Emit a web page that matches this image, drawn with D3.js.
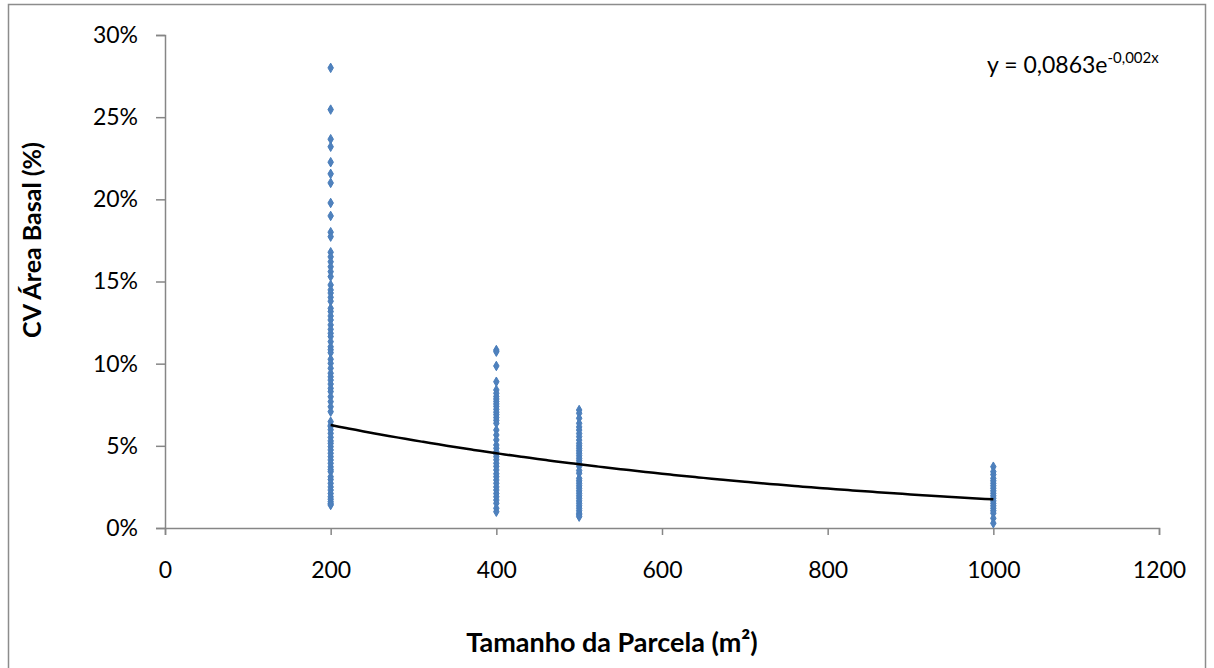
<!DOCTYPE html>
<html lang="pt">
<head>
    <meta charset="UTF-8">
    <title>CV Área Basal x Tamanho da Parcela</title>
    <style>
        body {
            margin: 0;
            background: #fff;
            font-family: Lato, 'Open Sans', sans-serif;
        }
        svg { display: block; }
        .tick text { font-family: Lato, sans-serif; font-size: 23px; fill: #000; }
        .axis-title { font-family: Lato, sans-serif; font-size: 25px; font-weight: bold; fill: #000; }
    </style>
    <script src="https://d3js.org/d3.v7.min.js"></script>
</head>
<body>
<svg id="chart" width="1214" height="668"></svg>
<script>
    // tamanhos de parcela (m²)
    const plotSizes = [200, 400, 500, 1000];

    // CV da área basal, por tamanho de parcela (fração)
    const cv200 = [0.280, 0.2546, 0.2366, 0.2320, 0.2226, 0.2155, 0.2100, 0.1978, 0.1899,
        0.1800, 0.1773, 0.1678, 0.1650, 0.1620, 0.1590, 0.1560, 0.1530, 0.1479, 0.1449,
        0.1430, 0.1404, 0.1380, 0.1337, 0.1317, 0.1290, 0.1266, 0.1236, 0.1209, 0.1185,
        0.1165, 0.1134, 0.1103, 0.1085, 0.1067, 0.1027, 0.1002, 0.0972, 0.0942, 0.0920,
        0.0900, 0.0876, 0.0850, 0.0830, 0.0799, 0.0769, 0.0738, 0.0708, 0.0647, 0.0625,
        0.0617, 0.0598, 0.0576, 0.0552, 0.0530, 0.0515, 0.0495, 0.0475, 0.0455, 0.0434,
        0.0414, 0.0394, 0.0372, 0.0355, 0.0343, 0.0312, 0.0295, 0.0272, 0.0250, 0.0231,
        0.0210, 0.0190, 0.0175, 0.0160, 0.0148, 0.0140];
    const cv400 = [0.1083, 0.1073, 0.0986, 0.0890, 0.0840, 0.0820, 0.0800, 0.0785, 0.0770,
        0.0755, 0.0740, 0.0722, 0.0705, 0.0690, 0.0672, 0.0655, 0.0637, 0.0596, 0.0566,
        0.0536, 0.0505, 0.0485, 0.0464, 0.0450, 0.0434, 0.0415, 0.0394, 0.0375, 0.0353,
        0.0330, 0.0312, 0.0292, 0.0272, 0.0250, 0.0231, 0.0210, 0.0190, 0.0170, 0.0150,
        0.0120, 0.0099];
    const cv500 = [0.0718, 0.0698, 0.0668, 0.0637, 0.0615, 0.0596, 0.0575, 0.0556, 0.0535,
        0.0515, 0.0500, 0.0485, 0.0470, 0.0455, 0.0440, 0.0424, 0.0410, 0.0394, 0.0375,
        0.0350, 0.0333, 0.0302, 0.0287, 0.0272, 0.0257, 0.0242, 0.0226, 0.0211, 0.0196,
        0.0181, 0.0165, 0.0150, 0.0135, 0.0120, 0.0105, 0.0090, 0.0080, 0.0069];
    const cv1000 = [0.0373, 0.0343, 0.0325, 0.0302, 0.0287, 0.0272, 0.0257, 0.0242, 0.0226,
        0.0211, 0.0196, 0.0181, 0.0165, 0.0150, 0.0135, 0.0120, 0.0105, 0.0090, 0.0059,
        0.0029];

    // linha de tendência exponencial (rótulo do Excel arredonda o expoente)
    const trendA = 0.0863;
    const trendB = -0.00160;
    const trendLabel = "y = 0,0863e";
    const trendExp = "-0,002x";

    const xTicks = [0, 200, 400, 600, 800, 1000, 1200];
    const yTicks = [0, 0.05, 0.10, 0.15, 0.20, 0.25, 0.30];

    const svg = d3.select("#chart");
    const width = +svg.attr("width");
    const height = +svg.attr("height");
    const margin = { top: 35, right: 55, bottom: 140, left: 165 };

    // moldura do gráfico
    svg.append("rect")
        .attr("x", 8.5).attr("y", 4.5)
        .attr("width", 1197).attr("height", 700)
        .attr("fill", "#fff")
        .attr("stroke", "#8c8c8c")
        .attr("stroke-width", 1.5);

    const x = d3.scaleLinear().domain([0, 1200]).range([margin.left, width - margin.right]);
    const y = d3.scaleLinear().domain([0, 0.30]).range([height - margin.bottom, margin.top]);

    const xAxis = svg.append("g")
        .attr("transform", `translate(0,${y(0)})`)
        .call(d3.axisBottom(x).tickValues(xTicks).tickFormat(d3.format("d")).tickSize(7).tickPadding(27));

    const yAxis = svg.append("g")
        .attr("transform", `translate(${x(0)},0)`)
        .call(d3.axisLeft(y).tickValues(yTicks).tickFormat(d3.format(".0%")).tickSize(9).tickPadding(18));

    [xAxis, yAxis].forEach(g => {
        g.select(".domain").attr("stroke", "#868686").attr("stroke-width", 1.5);
        g.selectAll(".tick line").attr("stroke", "#868686").attr("stroke-width", 1.5);
    });

    // pontos
    const points = [];
    [cv200, cv400, cv500, cv1000].forEach((vals, i) => {
        vals.forEach(v => points.push([plotSizes[i], v]));
    });

    svg.append("g")
        .selectAll("path")
        .data(points)
        .join("path")
        .attr("transform", d => `translate(${x(d[0])},${y(d[1])})`)
        .attr("d", d3.symbol().type(d3.symbolDiamond).size(26))
        .attr("fill", "#4f81bd")
        .attr("stroke", "#4a7ebb")
        .attr("stroke-width", 1);

    // tendência
    const trendX = d3.range(200, 1001, 10);
    svg.append("path")
        .datum(trendX)
        .attr("fill", "none")
        .attr("stroke", "#000")
        .attr("stroke-width", 2.5)
        .attr("d", d3.line()
            .x(d => x(d))
            .y(d => y(trendA * Math.exp(trendB * d)))
            .curve(d3.curveMonotoneX));

    // equação
    const eq = svg.append("text")
        .attr("x", 987)
        .attr("y", 73)
        .attr("font-family", "Lato, sans-serif")
        .attr("font-size", 23)
        .attr("fill", "#000")
        .text(trendLabel);
    eq.append("tspan")
        .attr("dy", -10)
        .attr("font-size", 15)
        .text(trendExp);

    // títulos dos eixos
    svg.append("text")
        .attr("class", "axis-title")
        .attr("x", 612)
        .attr("y", 652)
        .attr("text-anchor", "middle")
        .attr("font-size", 27)
        .style("font-size", "27px")
        .text("Tamanho da Parcela (m²)");

    svg.append("text")
        .attr("class", "axis-title")
        .attr("transform", "translate(41,240) rotate(-90)")
        .attr("text-anchor", "middle")
        .text("CV Área Basal (%)");
</script>
</body>
</html>
